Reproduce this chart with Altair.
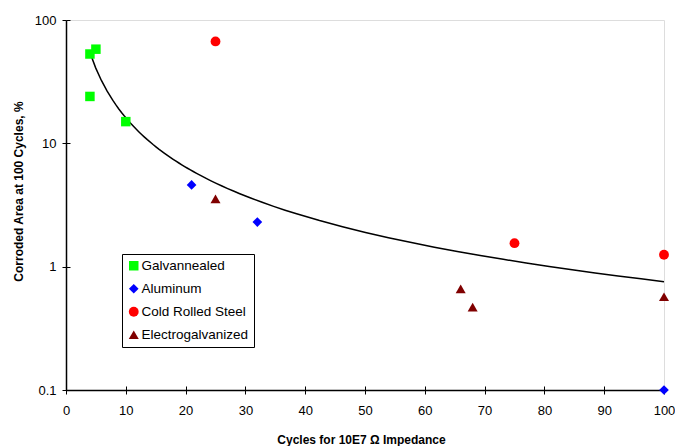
import altair as alt
import pandas as pd

series_names = ["Galvannealed", "Aluminum", "Cold Rolled Steel", "Electrogalvanized"]
galv_x = [4, 5, 4, 10]
galv_y = [53, 58, 24, 15]
alum_x = [21, 32, 100]
alum_y = [4.6, 2.3, 0.1]
crs_x = [25, 75, 100]
crs_y = [67, 1.55, 1.25]
eg_x = [25, 66, 68, 100]
eg_y = [3.55, 0.66, 0.47, 0.57]

x_ticks = list(range(0, 101, 10))
y_ticks = [0.1, 1, 10, 100]
colors = ["#00FF00", "#0000FF", "#FF0000", "#800000"]
shapes = ["square", "diamond", "circle", "triangle-up"]
sizes = [90, 100, 95, 115]

rows = []
for name, xs, ys in zip(series_names, [galv_x, alum_x, crs_x, eg_x], [galv_y, alum_y, crs_y, eg_y]):
    for a, b in zip(xs, ys):
        rows.append({"x": a, "y": b, "series": name})
df = pd.DataFrame(rows)

FONT = "Liberation Sans"
W, H = 598, 370

xscale = alt.Scale(domain=[0, 100], nice=False, zero=False)
yscale = alt.Scale(type="log", domain=[0.1, 100], nice=False)

# trend layer carries inward half of the crossing ticks
trend = (
    alt.Chart(df)
    .transform_filter("datum.y > 0.1")
    .transform_regression("x", "y", method="pow", extent=[4, 100])
    .mark_line(color="black", strokeWidth=1.5)
    .encode(
        x=alt.X("x:Q", scale=xscale,
                axis=alt.Axis(orient="top", offset=-H, values=x_ticks, labels=False,
                              domain=False, grid=False, tickSize=4, tickColor="black",
                              tickWidth=1, title=None)),
        y=alt.Y("y:Q", scale=yscale,
                axis=alt.Axis(orient="right", offset=-W, values=y_ticks, labels=False,
                              domain=False, grid=False, tickSize=4, tickColor="black",
                              tickWidth=1, title=None)),
    )
)

points = (
    alt.Chart(df)
    .mark_point(filled=True, opacity=1, strokeWidth=0)
    .encode(
        x=alt.X("x:Q", scale=xscale,
                axis=alt.Axis(values=x_ticks, grid=False, tickSize=4, tickColor="black",
                              domainColor="black", domainWidth=1.5, labelPadding=10,
                              labelFlush=False,
                              labelFontSize=13, labelColor="black", labelFont=FONT,
                              title="Cycles for 10E7 Ω Impedance", titleFont=FONT,
                              titleFontSize=12, titleFontWeight="bold", titleColor="black",
                              titleX=295, titleY=49, titleBaseline="middle", titleAlign="center")),
        y=alt.Y("y:Q", scale=yscale,
                axis=alt.Axis(values=y_ticks, format="~g", grid=False, tickSize=4,
                              tickColor="black", domainColor="black", domainWidth=1.5,
                              labelPadding=6, labelFontSize=13, labelColor="black",
                              labelFont=FONT, labelFlush=False,
                              title="Corroded Area at 100 Cycles, %", titleFont=FONT,
                              titleFontSize=12, titleFontWeight="bold", titleColor="black",
                              titleX=-48, titleY=171, titleBaseline="middle", titleAlign="center",
                              titleAngle=270)),
        color=alt.Color("series:N", scale=alt.Scale(domain=series_names, range=colors),
                        legend=alt.Legend(title=None, orient="none", legendX=56, legendY=234,
                                          fillColor="white", strokeColor="black", padding=5,
                                          labelFont=FONT, labelFontSize=13.5, labelColor="black",
                                          symbolSize=70, labelOffset=1, rowPadding=8,
                                          symbolStrokeWidth=0)),
        shape=alt.Shape("series:N", scale=alt.Scale(domain=series_names, range=shapes)),
        size=alt.Size("series:N", scale=alt.Scale(domain=series_names, range=sizes), legend=None),
    )
)

chart = (
    alt.layer(trend, points)
    .resolve_axis(x="independent", y="independent")
    .properties(width=W, height=H, autosize=alt.AutoSizeParams(type="none"),
                padding={"left": 66, "top": 20, "right": 11, "bottom": 56})
    .configure_view(stroke="#808080", strokeWidth=1.5)
    .configure(background="white")
)

chart.save("out.html", embed_options={"renderer": "svg", "actions": False})
